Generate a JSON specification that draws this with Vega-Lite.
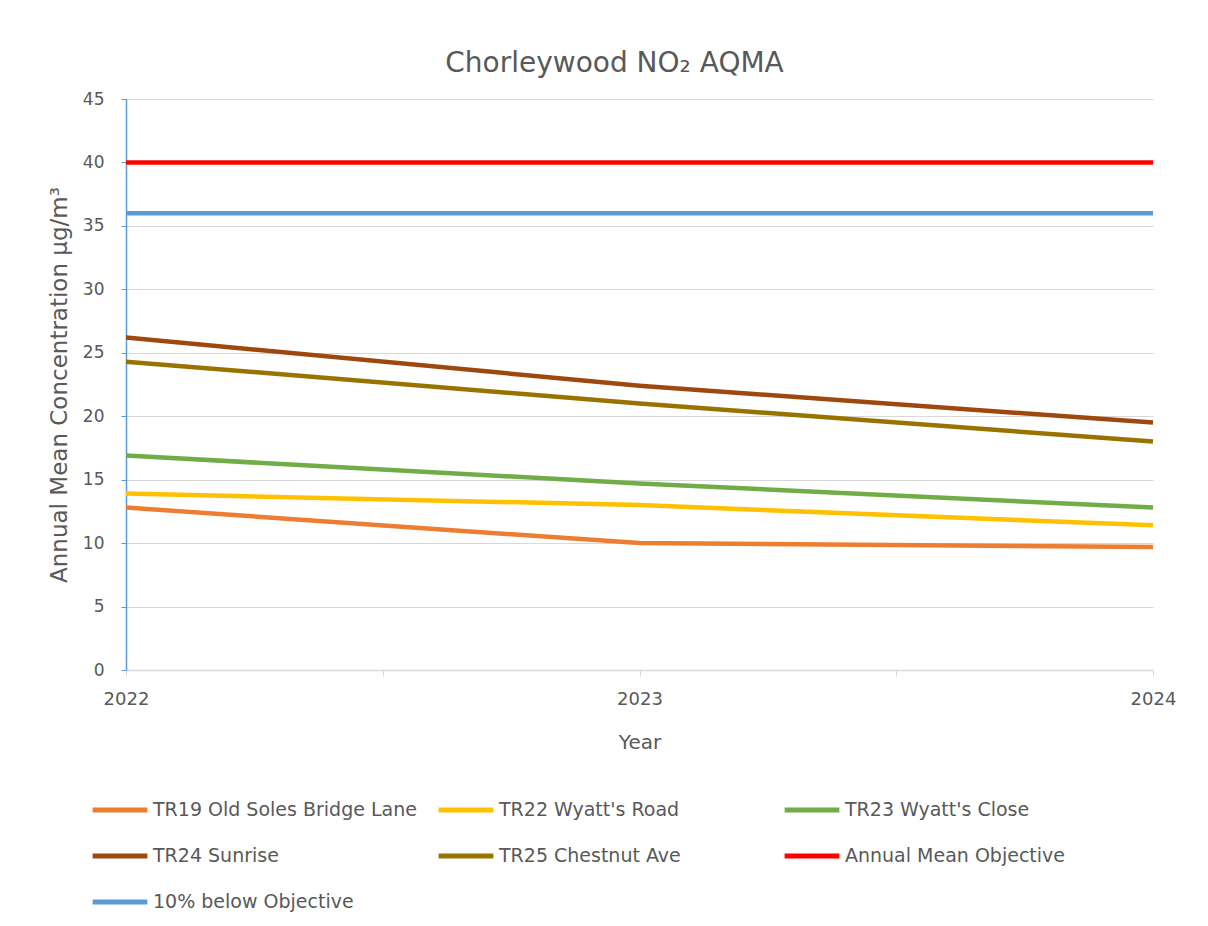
{
  "$schema": "https://vega.github.io/schema/vega-lite/v6.json",
  "autosize": {"type": "none"},
  "padding": {"left": 126, "top": 99, "right": 55, "bottom": 256},
  "width": 1027,
  "height": 571,
  "background": "white",
  "title": {
    "text": "Chorleywood NO₂ AQMA",
    "font": "DejaVu Sans",
    "fontSize": 28,
    "fontWeight": "normal",
    "color": "#595959",
    "anchor": "middle",
    "dx": -25,
    "offset": 12
  },
  "data": {
    "values": [
      {"series": "TR19 Old Soles Bridge Lane", "year": 2022, "value": 12.8},
      {"series": "TR19 Old Soles Bridge Lane", "year": 2023, "value": 10.0},
      {"series": "TR19 Old Soles Bridge Lane", "year": 2024, "value": 9.7},
      {"series": "TR22 Wyatt's Road", "year": 2022, "value": 13.9},
      {"series": "TR22 Wyatt's Road", "year": 2023, "value": 13.0},
      {"series": "TR22 Wyatt's Road", "year": 2024, "value": 11.4},
      {"series": "TR23 Wyatt's Close", "year": 2022, "value": 16.9},
      {"series": "TR23 Wyatt's Close", "year": 2023, "value": 14.7},
      {"series": "TR23 Wyatt's Close", "year": 2024, "value": 12.8},
      {"series": "TR24 Sunrise", "year": 2022, "value": 26.2},
      {"series": "TR24 Sunrise", "year": 2023, "value": 22.4},
      {"series": "TR24 Sunrise", "year": 2024, "value": 19.5},
      {"series": "TR25 Chestnut Ave", "year": 2022, "value": 24.3},
      {"series": "TR25 Chestnut Ave", "year": 2023, "value": 21.0},
      {"series": "TR25 Chestnut Ave", "year": 2024, "value": 18.0},
      {"series": "Annual Mean Objective", "year": 2022, "value": 40},
      {"series": "Annual Mean Objective", "year": 2023, "value": 40},
      {"series": "Annual Mean Objective", "year": 2024, "value": 40},
      {"series": "10% below Objective", "year": 2022, "value": 36},
      {"series": "10% below Objective", "year": 2023, "value": 36},
      {"series": "10% below Objective", "year": 2024, "value": 36}
    ]
  },
  "mark": {"type": "line", "strokeWidth": 4.5, "strokeCap": "butt"},
  "encoding": {
    "x": {
      "field": "year",
      "type": "quantitative",
      "scale": {"domain": [2022, 2024], "nice": false, "zero": false},
      "axis": {
        "title": "Year",
        "values": [2022, 2022.5, 2023, 2023.5, 2024],
        "labelExpr": "datum.value % 1 === 0 ? datum.value : ''",
        "labelOverlap": false,
        "grid": false,
        "domainColor": "#D9D9D9",
        "domainWidth": 1.5,
        "tickColor": "#D9D9D9",
        "tickSize": 6,
        "labelFont": "DejaVu Sans",
        "labelFontSize": 18,
        "labelColor": "#595959",
        "labelPadding": 14,
        "labelFlush": false,
        "titleFont": "DejaVu Sans",
        "titleFontSize": 20,
        "titleFontWeight": "normal",
        "titleColor": "#595959",
        "titlePadding": 24
      }
    },
    "y": {
      "field": "value",
      "type": "quantitative",
      "scale": {"domain": [0, 45], "nice": false},
      "axis": {
        "title": "Annual  Mean Concentration µg/m³",
        "values": [0, 5, 10, 15, 20, 25, 30, 35, 40, 45],
        "grid": true,
        "gridColor": "#D9D9D9",
        "gridWidth": 1.2,
        "domainColor": "#5B9BD5",
        "domainWidth": 1.5,
        "tickColor": "#5B9BD5",
        "tickSize": 5,
        "labelFont": "DejaVu Sans",
        "labelFontSize": 17,
        "labelColor": "#595959",
        "labelPadding": 17,
        "titleFont": "DejaVu Sans",
        "titleFontSize": 23,
        "titleFontWeight": "normal",
        "titleColor": "#595959",
        "titlePadding": 11
      }
    },
    "color": {
      "field": "series",
      "type": "nominal",
      "scale": {
        "domain": ["TR19 Old Soles Bridge Lane", "TR22 Wyatt's Road", "TR23 Wyatt's Close", "TR24 Sunrise", "TR25 Chestnut Ave", "Annual Mean Objective", "10% below Objective"],
        "range": ["#ED7D31", "#FFC000", "#70AD47", "#9E480E", "#997300", "#FF0000", "#5B9BD5"]
      },
      "legend": {
        "title": null,
        "orient": "none",
        "legendX": -36,
        "legendY": 681,
        "direction": "horizontal",
        "columns": 3,
        "gridAlign": "all",
        "columnPadding": 11,
        "rowPadding": 6,
        "symbolType": "stroke",
        "symbolSize": 3000,
        "symbolStrokeWidth": 5,
        "labelFont": "DejaVu Sans",
        "labelFontSize": 19,
        "labelColor": "#595959",
        "labelOffset": 3,
        "labelLimit": 400
      }
    }
  },
  "config": {"view": {"stroke": null}}
}
